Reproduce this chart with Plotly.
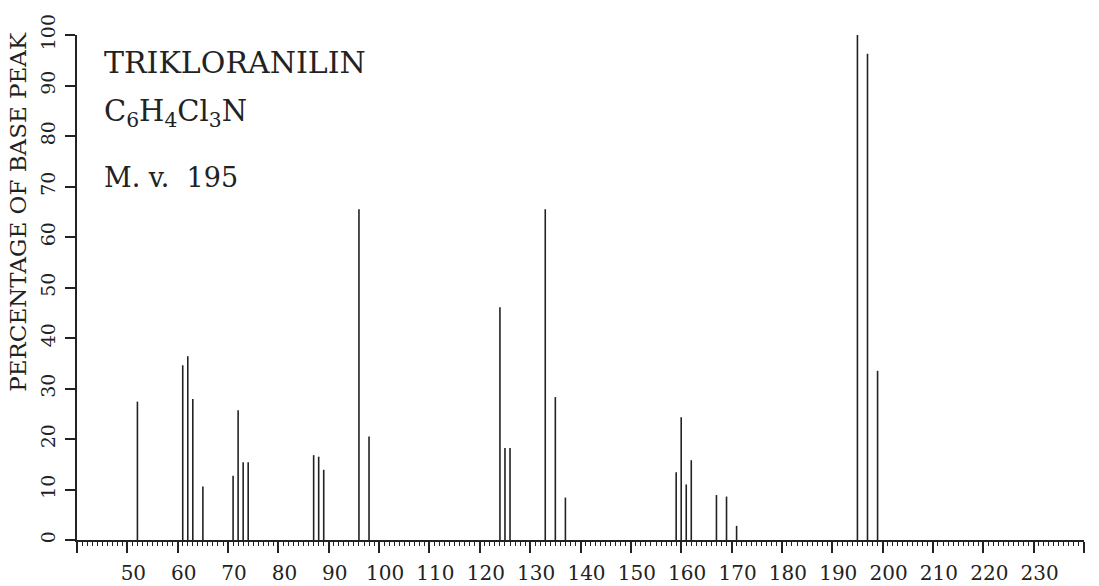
import plotly.graph_objects as go

# Mass spectrum of trichloroaniline: m/z and relative intensity (% of base peak)
mz = [52, 61, 62, 63, 65, 71, 72, 73, 74, 87, 88, 89, 96, 98,
      124, 125, 126, 133, 135, 137, 159, 160, 161, 162, 167, 169, 171,
      195, 197, 199]
intensity = [27.4, 34.6, 36.4, 27.9, 10.6, 12.7, 25.7, 15.4, 15.4, 16.8, 16.5, 13.9,
             65.5, 20.5, 46.1, 18.2, 18.2, 65.5, 28.3, 8.4, 13.4, 24.3, 11.0, 15.8,
             8.9, 8.6, 2.8, 100.0, 96.3, 33.5]

# Axis ticks and labels
x_tick_vals = list(range(40, 250, 10))
x_tick_text = ["" if v in (40, 240) else str(v) for v in x_tick_vals]
y_tick_vals = list(range(0, 110, 10))
y_tick_text = [str(v) for v in y_tick_vals]

compound_name = "TRIKLORANILIN"
formula = "C<sub>6</sub>H<sub>4</sub>Cl<sub>3</sub>N"
mol_weight = "M.\u00a0v.\u00a0\u00a0195"
y_title = "PERCENTAGE OF BASE PEAK"

FONT = "DejaVu Serif"
INK = "#222222"

# Stick spectrum: one vertical segment per peak
xs, ys = [], []
for m, v in zip(mz, intensity):
    xs += [m, m, None]
    ys += [0, v, None]

fig = go.Figure()
fig.add_trace(go.Scatter(x=xs, y=ys, mode="lines",
                         line=dict(color=INK, width=1.6),
                         hoverinfo="skip", showlegend=False))

fig.update_layout(
    width=1099, height=586,
    margin=dict(l=77, r=15, t=35, b=46),
    paper_bgcolor="white", plot_bgcolor="white",
    font=dict(family=FONT, color=INK),
    showlegend=False,
)

fig.update_xaxes(
    range=[40, 240], showgrid=False, zeroline=False, automargin=False,
    showline=True, linecolor=INK, linewidth=1.5,
    tickmode="array", tickvals=x_tick_vals, ticktext=x_tick_text,
    ticks="outside", ticklen=11, tickwidth=1.5, tickcolor=INK,
    minor=dict(dtick=1, ticks="outside", ticklen=4, tickwidth=1, tickcolor=INK, showgrid=False),
    tickfont=dict(family=FONT, size=20, color=INK),
    ticklabelstandoff=3, ticklabelshift=6,
)

fig.update_yaxes(
    range=[0, 100], showgrid=False, zeroline=False, automargin=False,
    showline=True, linecolor=INK, linewidth=1.5,
    tickmode="array", tickvals=y_tick_vals, ticktext=y_tick_text,
    ticks="outside", ticklen=10, tickwidth=1.5, tickcolor=INK,
    tickangle=-90,
    tickfont=dict(family=FONT, size=19, color=INK),
    ticklabelstandoff=3,
)

# Axis title and compound information
fig.add_annotation(text=y_title, textangle=-90, xref="paper", yref="paper",
                   x=-0.0586, y=0.65, xanchor="center", yanchor="middle",
                   showarrow=False, font=dict(family=FONT, size=23, color=INK))

fig.add_annotation(text=compound_name, xref="paper", yref="paper",
                   x=0.0248, y=0.9446, xanchor="left", yanchor="middle",
                   showarrow=False, font=dict(family=FONT, size=30, color=INK))
fig.add_annotation(text=formula, xref="paper", yref="paper",
                   x=0.0248, y=0.845, xanchor="left", yanchor="middle",
                   showarrow=False, font=dict(family=FONT, size=29, color=INK))
fig.add_annotation(text=mol_weight, xref="paper", yref="paper",
                   x=0.0248, y=0.7188, xanchor="left", yanchor="middle",
                   showarrow=False, font=dict(family=FONT, size=27, color=INK))

fig.write_html("out.html")
